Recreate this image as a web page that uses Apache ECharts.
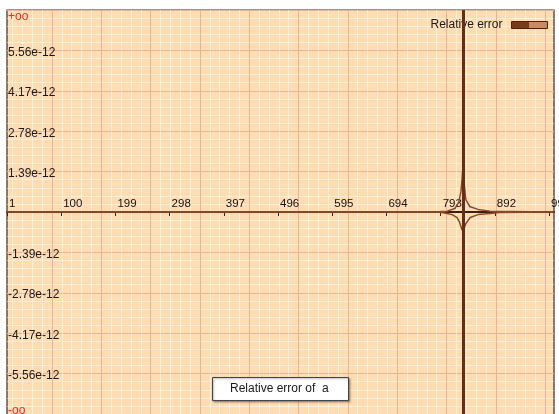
<!DOCTYPE html>
<html>
<head>
<meta charset="utf-8">
<script src="https://cdn.jsdelivr.net/npm/echarts@6/dist/echarts.min.js"></script>
<style>
  html, body { margin: 0; padding: 0; background: #fff; }
  #chart { width: 559px; height: 414px; }
</style>
</head>
<body>
<div id="chart"></div>
<script>
// x axis
const xMin = 1
const xMax = 1000
const xStep = 99
// y axis, values in units of 1e-12
const yMin = -6.95
const yMax = 6.95
const yStep = 1.39
const yTickLabels = ['-oo', '-5.56e-12', '-4.17e-12', '-2.78e-12', '-1.39e-12', '',
  '1.39e-12', '2.78e-12', '4.17e-12', '5.56e-12', '+oo']

// pole of the relative error
const poleX = 834
// upper branch
const upperX = [1, 780, 805, 819, 826, 830, 832, 833, 835, 836, 839, 846, 861, 883, 1000]
const upperY = [0, 0, 0.03, 0.12, 0.33, 0.7, 1.1, 1.4, 1.2, 0.95, 0.43, 0.19, 0.09, 0.03, 0]
// lower branch
const lowerX = [1, 790, 805, 814, 823, 827, 830, 832, 836, 839, 847, 861, 883, 900, 1000]
const lowerY = [0, 0, -0.05, -0.09, -0.19, -0.33, -0.5, -0.62, -0.55, -0.4, -0.19, -0.09, -0.05, -0.02, 0]

const font = 'Liberation Sans, Arial, sans-serif'
const bg = '#ffdcb1'
const majorColor = '#e4b49c'
const minorColor = 'rgba(255, 255, 255, 0.5)'
const curveColor = '#8b4828'
const poleColor = '#6a2d13'
const axisColor = '#3e2012'

const chart = echarts.init(document.getElementById('chart'), null, { renderer: 'canvas' })

const pairs = (xs, ys) => xs.map((x, i) => [x, ys[i]])

chart.setOption({
  animation: false,
  backgroundColor: '#fff',
  textStyle: { fontFamily: font },
  grid: [
    // frame and background
    { left: 7, top: 10, right: 5, bottom: -3, show: true, z: -1, outerBoundsMode: 'none',
      backgroundColor: bg, borderColor: '#3b2a20', borderWidth: 1.2 },
    // data
    { left: 7, top: 10, right: 5, bottom: 0, show: false, outerBoundsMode: 'none' },
    // vertical grid lines
    { left: 2.7, top: 10, right: 5, bottom: -3, show: false, outerBoundsMode: 'none' },
    // x axis drawn at y = 0
    { left: 7, top: 10, right: 5, bottom: 202, show: false, outerBoundsMode: 'none' }
  ],
  title: {
    text: 'Relative error of  a',
    left: 212,
    top: 377,
    padding: [6, 20, 6, 18],
    backgroundColor: '#fff',
    borderColor: '#444',
    borderWidth: 1,
    shadowColor: 'rgba(0, 0, 0, 0.35)',
    shadowBlur: 2,
    shadowOffsetX: 1,
    shadowOffsetY: 1,
    textStyle: { fontSize: 12, fontWeight: 'normal', color: '#1a1a1a', fontFamily: font }
  },
  legend: {
    data: ['Relative error'],
    right: 6,
    top: 14,
    align: 'right',
    icon: 'rect',
    itemWidth: 36,
    itemHeight: 7,
    z: 1,
    itemStyle: {
      color: {
        type: 'linear', x: 0, y: 0, x2: 1, y2: 0,
        colorStops: [
          { offset: 0, color: '#7a3a1c' },
          { offset: 0.5, color: '#7a3a1c' },
          { offset: 0.5, color: '#c98a60' },
          { offset: 1, color: '#c98a60' }
        ]
      },
      borderColor: '#4a2412',
      borderWidth: 1
    },
    textStyle: { fontSize: 12, color: '#1a1a1a', fontFamily: font, padding: [0, 4, 0, 0] }
  },
  xAxis: [
    { gridIndex: 0, type: 'value', show: false, min: 0, max: 1 },
    { gridIndex: 1, type: 'value', show: false, min: xMin, max: xMax },
    {
      gridIndex: 2,
      type: 'value',
      min: 0,
      max: 11.18,
      interval: 1,
      axisLine: { show: false },
      axisTick: { show: false },
      axisLabel: { show: false },
      splitLine: { show: true, showMinLine: false, showMaxLine: false, lineStyle: { color: majorColor, width: 1 } },
      minorTick: { show: false, splitNumber: 5 },
      minorSplitLine: { show: true, lineStyle: { color: minorColor, width: 1 } }
    },
    {
      gridIndex: 3,
      type: 'value',
      position: 'bottom',
      min: xMin,
      max: xMax,
      interval: xStep,
      z: 3,
      axisLine: { onZero: false, lineStyle: { color: axisColor, width: 2 } },
      axisTick: { show: true, length: 4, lineStyle: { color: axisColor, width: 1 } },
      axisLabel: {
        inside: true,
        margin: 2,
        align: 'left',
        padding: [0, 0, 0, 2],
        showMaxLabel: false,
        fontSize: 11.5,
        color: '#111',
        fontFamily: font
      },
      splitLine: { show: false }
    }
  ],
  yAxis: [
    { gridIndex: 0, type: 'value', show: false, min: 0, max: 1 },
    {
      gridIndex: 1,
      type: 'value',
      min: yMin,
      max: yMax,
      interval: yStep,
      axisLine: { show: false },
      axisTick: { show: false },
      axisLabel: {
        inside: true,
        margin: 1,
        padding: [4, 0, 0, 0],
        fontSize: 12,
        color: '#1a1a1a',
        fontFamily: font,
        formatter: function (v) {
          const i = Math.round((v - yMin) / yStep)
          const t = yTickLabels[i]
          if (i === yTickLabels.length - 1) return '{top|' + t + '}'
          if (i === 0) return '{bot|' + t + '}'
          return t
        },
        rich: {
          top: { color: '#ff2424', fontSize: 12, fontFamily: font, padding: [9, 0, 0, 0] },
          bot: { color: '#ff2424', fontSize: 12, fontFamily: font, padding: [0, 0, 10, 0] }
        }
      },
      splitLine: { show: true, lineStyle: { color: majorColor, width: 1 } },
      minorTick: { show: false, splitNumber: 5 },
      minorSplitLine: { show: true, lineStyle: { color: minorColor, width: 1 } }
    },
    { gridIndex: 2, type: 'value', show: false, min: 0, max: 1 },
    { gridIndex: 3, type: 'value', show: false, min: 0, max: 1 }
  ],
  series: [
    {
      name: 'Relative error',
      type: 'line',
      xAxisIndex: 1,
      yAxisIndex: 1,
      showSymbol: false,
      data: pairs(upperX, upperY),
      lineStyle: { color: curveColor, width: 1.5 },
      itemStyle: { color: curveColor },
      markLine: {
        silent: true,
        symbol: 'none',
        label: { show: false },
        lineStyle: { color: poleColor, width: 3, type: 'solid' },
        data: [{ xAxis: poleX }]
      }
    },
    {
      name: 'Relative error',
      type: 'line',
      xAxisIndex: 1,
      yAxisIndex: 1,
      showSymbol: false,
      data: pairs(lowerX, lowerY),
      lineStyle: { color: curveColor, width: 1.5 },
      itemStyle: { color: curveColor }
    }
  ]
})
</script>
</body>
</html>
